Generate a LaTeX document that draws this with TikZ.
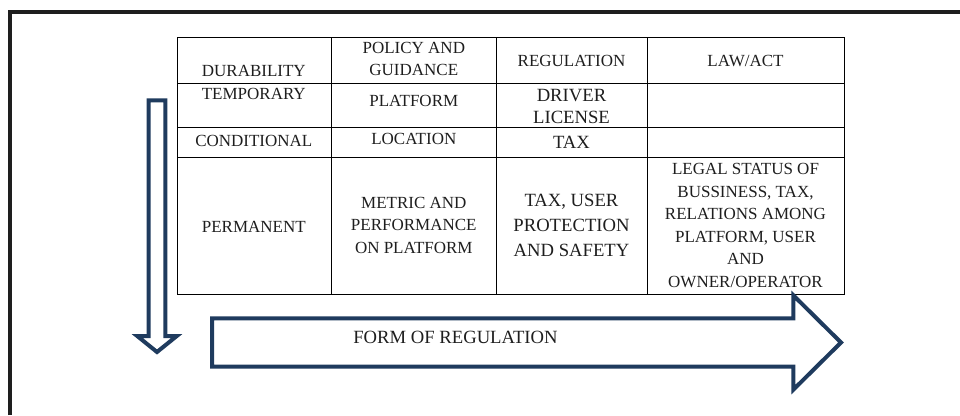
\documentclass[tikz,border=0pt]{standalone}
\usepackage{fontspec}
\setmainfont{Liberation Serif}
\definecolor{arrowblue}{HTML}{1F3B5E}
\definecolor{inkgray}{HTML}{1E1E1E}
\begin{document}
\begin{tikzpicture}[x=0.75pt, y=0.75pt,
    cell/.style={font=\fontsize{12.75}{16.9}\selectfont, align=center, inner sep=0pt, text=inkgray},
    bigcell/.style={font=\fontsize{14}{18.75}\selectfont, align=center, inner sep=0pt, text=inkgray},
    bigarrow/.style={draw=arrowblue, line width=3pt, line join=miter}]

      \useasboundingbox (0,0) rectangle (960,415);

      % frame
      \draw[inkgray, line width=3pt, line join=miter] (10,0) -- (10,403) -- (960,403);

      % table
      \draw[black, line width=0.75pt] (177,120.7) rectangle (844.3,377.7);
      \foreach \y in {331.7, 287.7, 257.7}
        \draw[black, line width=0.75pt] (177,\y) -- (844.3,\y);
      \foreach \x in {331.7, 496.3, 647.3}
        \draw[black, line width=0.75pt] (\x,120.7) -- (\x,377.7);

      \node[cell] (durability) at (253.8,344.2) {DURABILITY};
      \node[cell] (policy) at (413.8,356.2) {POLICY AND\\GUIDANCE};
      \node[cell] (regulation) at (571.5,354.2) {REGULATION};
      \node[cell] (lawact) at (745.5,354.2) {LAW/ACT};

      \node[cell] (temporary) at (253.8,320.8) {TEMPORARY};
      \node[cell] (platform) at (413.8,314.5) {PLATFORM};
      \node[bigcell] (driver) at (571.5,308.3) {DRIVER\\[-2.5pt]LICENSE};

      \node[cell] (conditional) at (253.8,274.5) {CONDITIONAL};
      \node[cell] (location) at (413.8,276.3) {LOCATION};
      \node[bigcell] (tax) at (571.5,272.5) {TAX};

      \node[cell] (permanent) at (253.8,188.3) {PERMANENT};
      \node[cell] (metric) at (413.8,190) {METRIC AND\\PERFORMANCE\\ON PLATFORM};
      \node[bigcell] (taxuser) at (571.5,189.8) {TAX, USER\\PROTECTION\\AND SAFETY};
      \node[cell] (legal) at (745.5,189.7) {LEGAL STATUS OF\\BUSSINESS, TAX,\\RELATIONS AMONG\\PLATFORM, USER\\AND\\OWNER/OPERATOR};

      % arrows
      \draw[bigarrow] (148.7,314.7) -- (165.3,314.7) -- (165.3,79) -- (176.8,79)
        -- (157,63) -- (137.2,79) -- (148.7,79) -- cycle;
      \draw[bigarrow] (212,96.7) -- (793.3,96.7) -- (793.3,119.7) -- (841,72.5)
        -- (793.3,25.3) -- (793.3,48.5) -- (212,48.5) -- cycle;

      \node[bigcell] (form) at (455.5,77.5) {FORM OF REGULATION};

\end{tikzpicture}
\end{document}
